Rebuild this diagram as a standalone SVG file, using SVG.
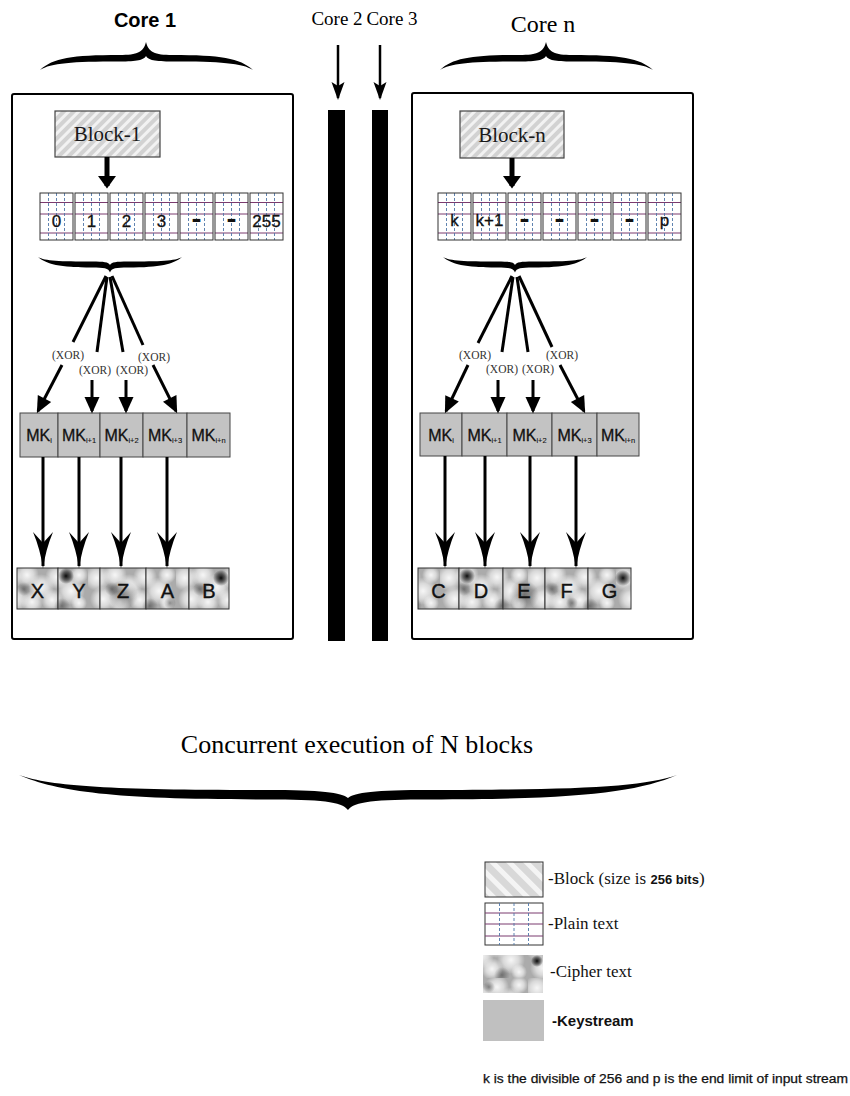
<svg xmlns="http://www.w3.org/2000/svg" width="850" height="1096" viewBox="0 0 850 1096">
<style>
.sans{font-family:"Liberation Sans",Arial,sans-serif}
.serif{font-family:"Liberation Serif","Times New Roman",serif}
.frame{fill:none;stroke:#000;stroke-width:2}
.blk{fill:url(#hatch);stroke:#444;stroke-width:1.2}
.pt{fill:url(#plain);stroke:#333;stroke-width:1}
.mk{fill:#c3c3c3;stroke:#444;stroke-width:1}
.ct{fill:url(#ciph);stroke:#333;stroke-width:1}
.brace{fill:#000}
.ln{fill:none;stroke:#000;stroke-width:3}
.fan{marker-end:url(#ah)}
.long{stroke-width:3;marker-end:url(#big)}
.ptxt{font-size:17px;text-anchor:middle;fill:#111;stroke:#111;stroke-width:0.3}
.dash{font-size:26px;font-weight:bold;text-anchor:middle;fill:#111}
.mkt{font-size:16px;text-anchor:middle;fill:#111;stroke:#111;stroke-width:0.3}
.sub{font-size:7.5px;stroke-width:0.1}
.ctt{font-size:20px;text-anchor:middle;fill:#111;stroke:#111;stroke-width:0.4}
.xor{font-size:11.5px;text-anchor:middle;fill:#333}
.btxt{font-size:21px;text-anchor:middle;fill:#1a1a1a}
.leg{font-size:17px;fill:#111}
</style>
<defs>
<pattern id="hatch" patternUnits="userSpaceOnUse" width="7" height="7" patternTransform="rotate(45)">
<rect width="7" height="7" fill="#d2d2d2"/><rect width="3" height="7" fill="#f2f2f2"/>
</pattern>
<pattern id="hatchL" patternUnits="userSpaceOnUse" width="12" height="12" patternTransform="rotate(-45)">
<rect width="12" height="12" fill="#d8d8d8"/><rect width="5" height="12" fill="#f4f4f4"/>
</pattern>
<pattern id="plain" patternUnits="objectBoundingBox" x="0" y="0" width="1" height="1">
<rect width="40" height="50" fill="#fff"/>
<path d="M0,9.5H40M0,21H40M0,40H40" stroke="#7a3a6e" stroke-width="1"/>
<path d="M8.5,0V50M16.5,0V50M24.5,0V50" stroke="#4f76a8" stroke-width="0.9" stroke-dasharray="3 2"/>
</pattern>
<radialGradient id="gw"><stop offset="0" stop-color="#fff" stop-opacity=".9"/><stop offset=".55" stop-color="#fff" stop-opacity=".55"/><stop offset="1" stop-color="#fff" stop-opacity="0"/></radialGradient>
<radialGradient id="gd"><stop offset="0" stop-color="#000" stop-opacity=".95"/><stop offset=".5" stop-color="#111" stop-opacity=".6"/><stop offset="1" stop-color="#000" stop-opacity="0"/></radialGradient>
<radialGradient id="gm"><stop offset="0" stop-color="#333" stop-opacity=".5"/><stop offset="1" stop-color="#333" stop-opacity="0"/></radialGradient>
<pattern id="ciph" patternUnits="userSpaceOnUse" x="0" y="568" width="88" height="41">
<rect width="88" height="41" fill="#ababab"/>
<circle cx="9" cy="10" r="13" fill="url(#gw)"/>
<circle cx="27" cy="7" r="12" fill="url(#gw)"/>
<circle cx="41" cy="19" r="13" fill="url(#gw)"/>
<circle cx="15" cy="31" r="13" fill="url(#gw)"/>
<circle cx="32" cy="34" r="11" fill="url(#gw)"/>
<circle cx="57" cy="9" r="12" fill="url(#gw)"/>
<circle cx="71" cy="23" r="14" fill="url(#gw)"/>
<circle cx="52" cy="32" r="11" fill="url(#gw)"/>
<circle cx="79" cy="7" r="9" fill="url(#gw)"/>
<circle cx="79" cy="35" r="8" fill="url(#gw)"/>
<circle cx="24" cy="21" r="7" fill="url(#gm)"/>
<circle cx="62" cy="38" r="8" fill="url(#gm)"/>
</pattern>
<marker id="ah" viewBox="-16 -9 19 18" refX="0" refY="0" markerWidth="19" markerHeight="18" orient="auto" markerUnits="userSpaceOnUse"><path d="M2.5,0 L-14,-7.5 L-14,7.5 Z"/></marker>
<marker id="big" viewBox="-36 -11 39 22" refX="0" refY="0" markerWidth="39" markerHeight="22" orient="auto" markerUnits="userSpaceOnUse"><path d="M2.5,0 Q-16,-2.5 -34,-10 L-23,0 L-34,10 Q-16,2.5 2.5,0 Z"/></marker>
<marker id="bk" viewBox="-12 -10 15 20" refX="0" refY="0" markerWidth="15" markerHeight="20" orient="auto" markerUnits="userSpaceOnUse"><path d="M2.5,0 L-10,-9 L-10,9 Z"/></marker>
<marker id="thin" viewBox="-18 -8 21 16" refX="0" refY="0" markerWidth="21" markerHeight="16" orient="auto" markerUnits="userSpaceOnUse"><path d="M2,0 L-16,-6.5 L-12,0 L-16,6.5 Z"/></marker>
<path id="topBrace" d="M40,70 C53,58 72,55 119.5,55 C137.5,55 143.5,52 146,42 C148.5,52 154.5,55 172.5,55 C220,55 240,58 253,70 C242,63 220,61.5 172.5,61.5 C154.5,61.5 148.5,60 146,56 C143.5,60 137.5,61.5 119.5,61.5 C72,61.5 51,63 40,70 Z"/>
<path id="innerBrace" d="M38,257 C46,264 60,267.5 92,267.5 C104,267.5 108.5,268 110,272.5 C111.5,268 116,267.5 128,267.5 C160,267.5 174,264 182,257 C175,261 160,261.5 128,261.5 C116,261.5 111.5,262 110,265 C108.5,262 104,261.5 92,261.5 C60,261.5 45,261 38,257 Z"/>
</defs>

<rect width="850" height="1096" fill="#fff"/>

<!-- Core 1 -->
<g id="core1">
<text class="sans" x="145" y="27" font-size="20" font-weight="bold" text-anchor="middle">Core 1</text>
<use href="#topBrace" class="brace"/>
<rect class="frame" x="12" y="94" width="281" height="545" rx="2"/>
</g>
<g id="block1">
<rect class="blk" x="55" y="111" width="105" height="46"/>
<text class="serif btxt" x="107.5" y="141">Block-1</text>
</g>
<g id="plain1" class="sans">
<rect class="pt" x="40" y="193" width="33" height="47"/><text class="ptxt" x="56.5" y="227">0</text>
<rect class="pt" x="75" y="193" width="33" height="47"/><text class="ptxt" x="91.5" y="227">1</text>
<rect class="pt" x="110" y="193" width="33" height="47"/><text class="ptxt" x="126.5" y="227">2</text>
<rect class="pt" x="145" y="193" width="33" height="47"/><text class="ptxt" x="161.5" y="227">3</text>
<rect class="pt" x="180" y="193" width="33" height="47"/><text class="dash" x="196.5" y="227" textLength="10" lengthAdjust="spacingAndGlyphs">-</text>
<rect class="pt" x="215" y="193" width="33" height="47"/><text class="dash" x="231.5" y="227" textLength="10" lengthAdjust="spacingAndGlyphs">-</text>
<rect class="pt" x="250" y="193" width="33" height="47"/><text class="ptxt" x="266.5" y="227">255</text>
</g>
<g id="brace1"><use href="#innerBrace" class="brace"/></g>
<g id="xor1" class="serif">
<text class="xor" x="68" y="359">(XOR)</text>
<text class="xor" x="95" y="374">(XOR)</text>
<text class="xor" x="132" y="374">(XOR)</text>
<text class="xor" x="154" y="361">(XOR)</text>
</g>
<g id="mk1" class="sans">
<rect class="mk" x="20" y="413" width="38" height="44"/><text class="mkt" x="39" y="441">MK<tspan class="sub" dy="2">i</tspan></text>
<rect class="mk" x="58" y="413" width="42" height="44"/><text class="mkt" x="79" y="441">MK<tspan class="sub" dy="2">i+1</tspan></text>
<rect class="mk" x="100" y="413" width="43" height="44"/><text class="mkt" x="121.5" y="441">MK<tspan class="sub" dy="2">i+2</tspan></text>
<rect class="mk" x="143" y="413" width="44" height="44"/><text class="mkt" x="165" y="441">MK<tspan class="sub" dy="2">i+3</tspan></text>
<rect class="mk" x="187" y="413" width="43" height="44"/><text class="mkt" x="208.5" y="441">MK<tspan class="sub" dy="2">i+n</tspan></text>
</g>
<g id="cipher1" class="sans">
<rect class="ct" x="17" y="568" width="41" height="41"/>
<rect class="ct" x="58" y="568" width="42" height="41"/>
<rect class="ct" x="100" y="568" width="46" height="41"/>
<rect class="ct" x="146" y="568" width="43" height="41"/>
<rect class="ct" x="189" y="568" width="40" height="41"/>
<circle cx="66" cy="576" r="8" fill="url(#gd)"/>
<circle cx="221" cy="578" r="8" fill="url(#gd)"/>
<circle cx="123" cy="595" r="15" fill="url(#gm)"/>
<circle cx="170" cy="603" r="6" fill="url(#gm)"/>
<text class="ctt" x="37.5" y="598">X</text>
<text class="ctt" x="79" y="598">Y</text>
<text class="ctt" x="123" y="598">Z</text>
<text class="ctt" x="167.5" y="598">A</text>
<text class="ctt" x="209" y="598">B</text>
</g>

<!-- Core 2 / Core 3 -->
<g id="core2">
<text class="serif" x="337" y="25" font-size="19" text-anchor="middle">Core 2</text>
<rect x="328" y="110" width="17" height="531" fill="#000"/>
</g>
<g id="core3">
<text class="serif" x="392" y="25" font-size="19" text-anchor="middle">Core 3</text>
<rect x="372" y="110" width="16" height="531" fill="#000"/>
</g>

<!-- Core n -->
<g id="coren">
<text class="serif" x="543" y="32" font-size="24" text-anchor="middle">Core n</text>
<use href="#topBrace" class="brace" transform="translate(400,0)"/>
<rect class="frame" x="412" y="93" width="281" height="546" rx="2"/>
</g>
<g id="blockn">
<rect class="blk" x="460" y="111" width="104" height="47"/>
<text class="serif btxt" x="512" y="142">Block-n</text>
</g>
<g id="plainn" class="sans">
<rect class="pt" x="438" y="193" width="33" height="47"/><text class="ptxt" x="454.5" y="226">k</text>
<rect class="pt" x="473" y="193" width="33" height="47"/><text class="ptxt" x="489.5" y="226">k+1</text>
<rect class="pt" x="508" y="193" width="33" height="47"/><text class="dash" x="524.5" y="227" textLength="10" lengthAdjust="spacingAndGlyphs">-</text>
<rect class="pt" x="543" y="193" width="33" height="47"/><text class="dash" x="559.5" y="227" textLength="10" lengthAdjust="spacingAndGlyphs">-</text>
<rect class="pt" x="578" y="193" width="33" height="47"/><text class="dash" x="594.5" y="227" textLength="10" lengthAdjust="spacingAndGlyphs">-</text>
<rect class="pt" x="613" y="193" width="33" height="47"/><text class="dash" x="629.5" y="227" textLength="10" lengthAdjust="spacingAndGlyphs">-</text>
<rect class="pt" x="648" y="193" width="33" height="47"/><text class="ptxt" x="664.5" y="226">p</text>
</g>
<g id="bracen"><use href="#innerBrace" class="brace" transform="translate(405,0)"/></g>
<g id="xorn" class="serif">
<text class="xor" x="475" y="359">(XOR)</text>
<text class="xor" x="502" y="373">(XOR)</text>
<text class="xor" x="538" y="373">(XOR)</text>
<text class="xor" x="562" y="359">(XOR)</text>
</g>
<g id="mkn" class="sans">
<rect class="mk" x="420" y="413" width="42" height="43"/><text class="mkt" x="441" y="441">MK<tspan class="sub" dy="2">i</tspan></text>
<rect class="mk" x="462" y="413" width="45" height="43"/><text class="mkt" x="484.5" y="441">MK<tspan class="sub" dy="2">i+1</tspan></text>
<rect class="mk" x="507" y="413" width="45" height="43"/><text class="mkt" x="529.5" y="441">MK<tspan class="sub" dy="2">i+2</tspan></text>
<rect class="mk" x="552" y="413" width="45" height="43"/><text class="mkt" x="574.5" y="441">MK<tspan class="sub" dy="2">i+3</tspan></text>
<rect class="mk" x="597" y="413" width="42" height="43"/><text class="mkt" x="618" y="441">MK<tspan class="sub" dy="2">i+n</tspan></text>
</g>
<g id="ciphern" class="sans">
<rect class="ct" x="418" y="568" width="41" height="41"/>
<rect class="ct" x="459" y="568" width="44" height="41"/>
<rect class="ct" x="503" y="568" width="42" height="41"/>
<rect class="ct" x="545" y="568" width="43" height="41"/>
<rect class="ct" x="588" y="568" width="43" height="41"/>
<circle cx="467" cy="576" r="8" fill="url(#gd)"/>
<circle cx="623" cy="578" r="8" fill="url(#gd)"/>
<circle cx="524" cy="595" r="15" fill="url(#gm)"/>
<circle cx="572" cy="603" r="6" fill="url(#gm)"/>
<text class="ctt" x="438.5" y="598">C</text>
<text class="ctt" x="481" y="598">D</text>
<text class="ctt" x="524" y="598">E</text>
<text class="ctt" x="566.5" y="598">F</text>
<text class="ctt" x="609.5" y="598">G</text>
</g>

<!-- Connectors -->
<g id="connectors" class="ln">
<line x1="107" y1="157" x2="107" y2="186" stroke-width="5" marker-end="url(#bk)"/>
<line x1="512" y1="158" x2="512" y2="186" stroke-width="5" marker-end="url(#bk)"/>
<line x1="338" y1="45" x2="338" y2="98" stroke-width="2.5" marker-end="url(#thin)"/>
<line x1="380" y1="45" x2="380" y2="98" stroke-width="2.5" marker-end="url(#thin)"/>
<!-- fan core 1 -->
<path d="M106,276 L73,342"/>
<path d="M107,277 L97,352"/>
<path d="M110,277 L123,352"/>
<path d="M112,276 L143,345"/>
<line class="fan" x1="62" y1="365" x2="38" y2="411"/>
<line class="fan" x1="92" y1="380" x2="92" y2="411"/>
<line class="fan" x1="126" y1="380" x2="126" y2="411"/>
<line class="fan" x1="153" y1="365" x2="176" y2="411"/>
<!-- fan core n -->
<path d="M512,276 L478,343"/>
<path d="M513,277 L502,352"/>
<path d="M517,277 L528,352"/>
<path d="M519,276 L552,347"/>
<line class="fan" x1="468" y1="365" x2="446" y2="411"/>
<line class="fan" x1="498" y1="380" x2="498" y2="411"/>
<line class="fan" x1="533" y1="380" x2="533" y2="411"/>
<line class="fan" x1="560" y1="365" x2="584" y2="411"/>
<!-- MK to cipher -->
<line class="long" x1="43" y1="457" x2="43" y2="566"/>
<line class="long" x1="79" y1="457" x2="79" y2="566"/>
<line class="long" x1="121" y1="457" x2="121" y2="566"/>
<line class="long" x1="167" y1="457" x2="167" y2="566"/>
<line class="long" x1="445" y1="456" x2="445" y2="566"/>
<line class="long" x1="485" y1="456" x2="485" y2="566"/>
<line class="long" x1="530" y1="456" x2="530" y2="566"/>
<line class="long" x1="576" y1="456" x2="576" y2="566"/>
</g>

<!-- Concurrent execution -->
<g id="concurrent">
<text class="serif" x="357" y="753" font-size="26" text-anchor="middle">Concurrent execution of N blocks</text>
<path class="brace" d="M19,775 C58.5,792.2 117.7,799.4 265.75,799.4 C321.7,799.4 341.4,801.2 348,810 C354.6,801.2 374.3,799.4 430.25,799.4 C578.3,799.4 637.5,792.2 677,775 C644.1,786.8 578.3,790 430.25,790 C374.3,790 354.6,792.4 348,798 C341.4,792.4 321.7,790 265.75,790 C117.7,790 51.9,786.8 19,775 Z"/>
</g>

<!-- Legend -->
<g id="legend-block">
<rect x="485" y="862" width="58" height="35" fill="url(#hatchL)" stroke="#333" stroke-width="1"/>
<text class="serif leg" x="548" y="884">-Block (size is <tspan class="sans" font-size="13" font-weight="bold">256 bits</tspan>)</text>
</g>
<g id="legend-plain">
<rect x="485" y="903" width="58" height="42" fill="#fff" stroke="#333" stroke-width="1"/>
<path d="M485,913H543M485,924H543M485,936H543" stroke="#7a3a6e" stroke-width="1"/>
<path d="M499.5,903V945M514,903V945M528.5,903V945" stroke="#4f76a8" stroke-width="0.9" stroke-dasharray="3 2"/>
<text class="serif leg" x="548" y="929">-Plain text</text>
</g>
<g id="legend-cipher">
<rect x="483" y="955" width="60" height="38" fill="url(#ciph)"/>
<circle cx="537" cy="961" r="6" fill="url(#gd)"/>
<circle cx="489" cy="987" r="6" fill="url(#gm)"/>
<text class="serif leg" x="550" y="977">-Cipher text</text>
</g>
<g id="legend-key">
<rect x="483" y="1000" width="61" height="41" fill="#c0c0c0"/>
<text class="sans" x="552" y="1026" font-size="15" font-weight="bold" fill="#111">-Keystream</text>
</g>
<text id="footnote" class="sans" x="483" y="1083" font-size="12" fill="#111" stroke="#111" stroke-width="0.25" textLength="365" lengthAdjust="spacingAndGlyphs">k is the divisible of 256 and p is the end limit of input stream</text>
</svg>
